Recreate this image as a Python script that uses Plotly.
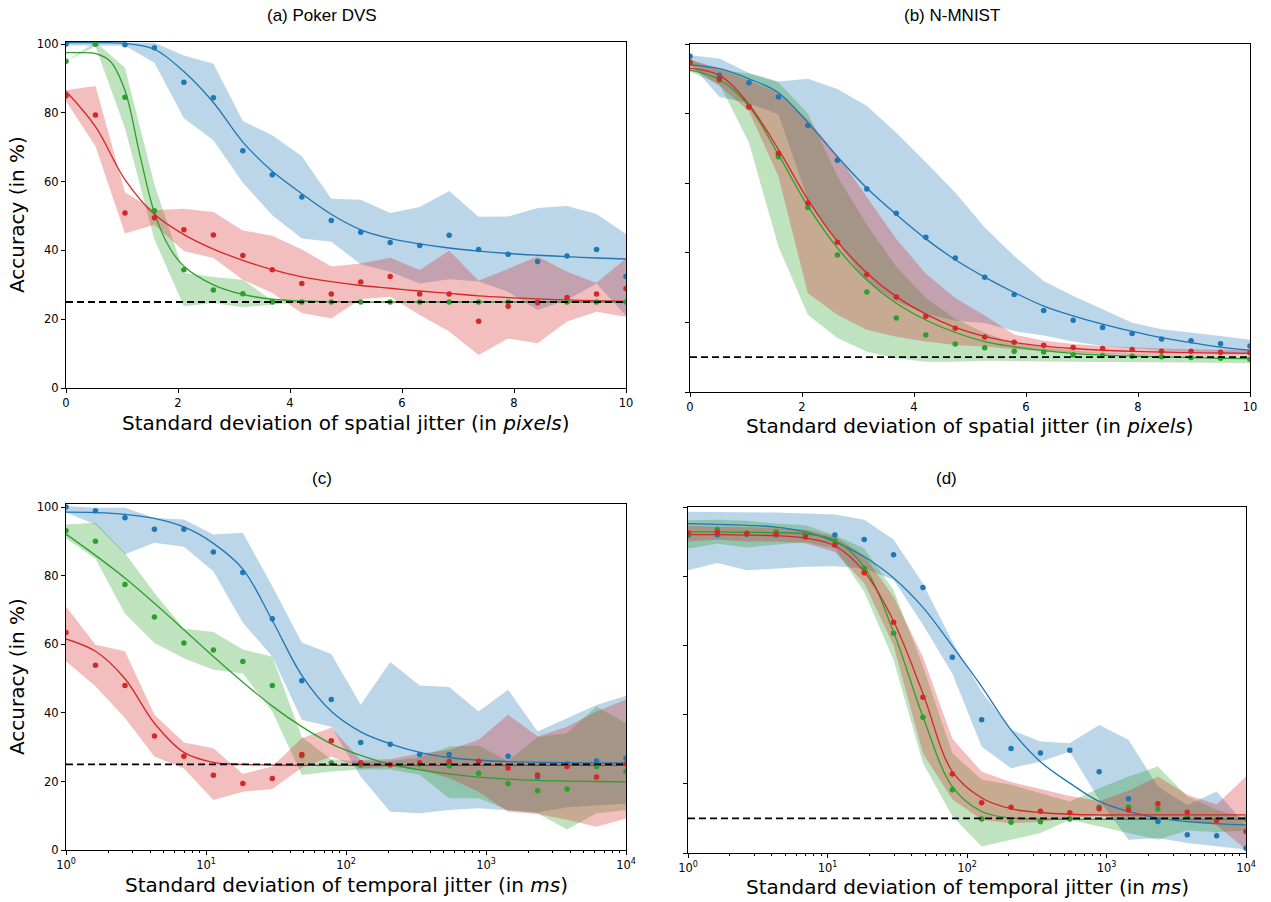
import plotly.graph_objects as go

W, H = 1271, 902

# ---------------- data ----------------
spatial_x = [0.0, 0.526, 1.053, 1.579, 2.105, 2.632, 3.158, 3.684, 4.211, 4.737,
             5.263, 5.789, 6.316, 6.842, 7.368, 7.895, 8.421, 8.947, 9.474, 10.0]
temporal_x = [1.0, 1.624, 2.637, 4.281, 6.952, 11.29, 18.33, 29.76, 48.33, 78.48,
              127.4, 206.9, 336.0, 545.6, 885.9, 1438.0, 2336.0, 3793.0, 6158.0, 10000.0]

poker_chance = 25
nmnist_chance = 10

# (a) Poker DVS - spatial
a_blue_pts = [100.0, 100.0, 99.8, 98.9, 88.9, 84.4, 69.0, 62.0, 55.5, 48.7, 45.3, 42.3, 41.4, 44.4, 40.3, 38.9, 36.8, 38.4, 40.3, 32.4]
a_blue_fit = [100.4, 100.4, 100.2, 98.5, 92.0, 83.0, 71.5, 63.0, 56.5, 50.5, 46.0, 43.5, 41.9, 40.7, 39.8, 39.1, 38.6, 38.2, 37.8, 37.5]
a_blue_hi = [100.6, 100.6, 100.6, 100.4, 96.7, 94.3, 77.6, 73.5, 67.4, 55.0, 54.7, 50.9, 52.6, 57.3, 49.8, 49.9, 52.3, 52.9, 50.6, 44.8]
a_blue_lo = [99.6, 99.6, 99.5, 94.6, 78.4, 72.0, 59.7, 50.2, 43.5, 42.5, 36.0, 33.8, 30.4, 31.6, 31.0, 28.0, 22.7, 25.6, 30.4, 21.0]
a_green_pts = [95.0, 100.0, 84.5, 51.5, 34.4, 28.5, 27.4, 25.0, 25.0, 25.0, 25.0, 25.0, 25.0, 25.0, 25.0, 25.0, 25.0, 25.0, 25.0, 25.0]
# the green fitted curve is read at extra points where it drops steeply
a_green_fit_x = [0.0, 0.263, 0.526, 0.79, 1.053, 1.316, 1.579, 1.842, 2.105, 2.632, 3.158, 3.684, 4.211, 4.737,
                 5.263, 5.789, 6.316, 6.842, 7.368, 7.895, 8.421, 8.947, 9.474, 10.0]
a_green_fit = [97.5, 97.5, 97.2, 95.0, 86.5, 68.0, 51.0, 41.0, 35.4, 30.0, 27.2, 25.8, 25.3, 25.1,
               25.0, 25.0, 25.0, 25.0, 25.0, 25.0, 25.0, 25.0, 25.0, 25.0]
a_green_hi = [95.0, 100.6, 93.1, 59.2, 33.5, 32.3, 31.5, 25.4, 25.1, 25.0, 25.0, 25.0, 25.0, 25.0, 25.0, 25.0, 25.0, 25.0, 25.0, 25.0]
a_green_lo = [95.0, 99.4, 75.5, 43.2, 23.8, 24.7, 23.5, 24.2, 24.9, 25.0, 25.0, 25.0, 25.0, 25.0, 25.0, 25.0, 25.0, 25.0, 25.0, 25.0]
a_red_pts = [85.0, 79.4, 50.9, 49.5, 46.0, 44.5, 38.5, 34.4, 30.4, 27.3, 30.8, 32.4, 27.3, 27.3, 19.4, 23.8, 24.8, 26.3, 27.3, 28.9]
a_red_fit = [86.3, 76.0, 60.6, 50.5, 44.6, 40.4, 37.1, 34.4, 32.3, 30.9, 29.8, 29.0, 28.2, 27.5, 26.8, 26.3, 25.9, 25.6, 25.4, 25.2]
a_red_hi = [86.6, 87.8, 56.9, 51.7, 52.1, 51.2, 45.8, 44.3, 40.3, 35.3, 36.2, 37.9, 34.3, 39.9, 31.2, 34.8, 38.2, 33.8, 30.5, 37.7]
a_red_lo = [83.4, 70.3, 44.9, 47.5, 39.8, 37.8, 31.5, 27.6, 21.8, 20.2, 25.8, 26.5, 21.2, 16.4, 9.6, 14.4, 13.0, 19.3, 22.2, 20.7]

# (b) N-MNIST - spatial
b_blue_pts = [96.5, 91.0, 88.9, 84.8, 76.6, 66.6, 58.3, 51.4, 44.5, 38.5, 33.0, 28.0, 23.4, 20.6, 18.5, 16.8, 15.2, 14.7, 13.9, 13.2]
b_blue_fit = [94.0, 92.9, 90.0, 86.0, 77.4, 67.6, 58.6, 51.0, 44.0, 38.0, 33.0, 28.6, 24.7, 21.9, 19.5, 17.4, 15.6, 14.2, 12.9, 12.0]
b_blue_hi = [96.8, 95.8, 91.7, 89.2, 90.0, 87.1, 82.2, 74.5, 66.0, 57.3, 47.3, 39.1, 31.9, 27.6, 23.8, 19.9, 18.0, 17.1, 16.1, 15.0]
b_blue_lo = [94.5, 84.8, 83.0, 79.8, 55.3, 42.8, 32.0, 26.0, 22.5, 20.5, 19.8, 17.5, 16.2, 14.5, 13.2, 12.5, 12.0, 11.6, 11.3, 11.0]
b_green_pts = [94.8, 89.6, 82.1, 67.6, 53.0, 39.4, 28.7, 21.3, 16.4, 13.8, 12.7, 11.7, 11.5, 10.7, 10.5, 10.3, 10.1, 9.9, 9.7, 9.4]
b_green_fit = [92.5, 89.8, 82.1, 68.2, 53.4, 41.4, 32.2, 25.5, 20.7, 17.1, 14.5, 13.0, 11.9, 11.1, 10.6, 10.3, 10.1, 9.9, 9.7, 9.6]
b_green_hi = [95.5, 92.5, 91.5, 89.0, 80.0, 62.0, 48.0, 36.0, 27.0, 21.0, 17.0, 14.0, 12.8, 11.9, 11.3, 10.9, 10.6, 10.4, 10.2, 10.0]
b_green_lo = [92.0, 88.5, 71.6, 41.8, 22.2, 15.5, 11.6, 9.7, 8.7, 8.7, 9.0, 9.0, 8.8, 8.7, 8.6, 8.5, 8.5, 8.4, 8.4, 8.3]
b_red_pts = [94.6, 90.0, 81.9, 68.5, 54.3, 43.0, 33.8, 27.3, 21.8, 18.3, 15.8, 14.3, 13.4, 12.8, 12.5, 12.2, 11.7, 11.7, 11.4, 11.3]
b_red_fit = [93.0, 91.0, 82.6, 69.7, 55.3, 43.3, 34.2, 27.4, 22.4, 18.6, 16.0, 14.3, 13.2, 12.5, 12.0, 11.7, 11.5, 11.3, 11.2, 11.1]
b_red_hi = [95.5, 93.0, 89.5, 86.0, 78.3, 68.0, 56.0, 44.0, 34.0, 27.0, 22.0, 16.5, 14.7, 13.8, 13.2, 12.8, 12.5, 12.3, 12.1, 12.0]
b_red_lo = [93.5, 87.9, 80.7, 62.0, 28.4, 22.2, 17.9, 15.9, 14.5, 13.5, 13.1, 12.3, 11.8, 11.3, 11.0, 10.7, 10.5, 10.3, 10.2, 10.1]

# (c) Poker DVS - temporal
c_blue_pts = [100.1, 99.0, 97.0, 93.6, 93.6, 87.0, 81.0, 67.5, 49.4, 43.9, 31.4, 30.9, 27.9, 27.9, 25.8, 27.4, 21.4, 25.1, 26.0, 26.8]
c_blue_fit = [98.6, 98.5, 98.0, 96.8, 94.3, 89.5, 82.0, 67.0, 51.0, 40.5, 34.5, 31.0, 28.5, 27.0, 26.2, 25.8, 25.6, 25.5, 25.4, 25.4]
c_blue_hi = [100.4, 99.9, 99.9, 96.9, 96.5, 92.1, 92.6, 77.0, 60.6, 57.2, 42.4, 54.9, 48.0, 47.6, 40.4, 46.8, 34.6, 38.5, 42.3, 45.0]
c_blue_lo = [98.5, 95.0, 86.3, 89.7, 88.5, 81.4, 66.3, 56.5, 38.0, 36.0, 21.4, 11.2, 10.7, 11.7, 12.2, 11.7, 11.0, 12.5, 13.0, 13.5]
c_green_pts = [93.2, 90.1, 77.5, 68.0, 60.4, 58.4, 55.0, 48.0, 27.5, 25.4, 24.8, 24.9, 25.0, 24.6, 22.4, 19.4, 17.3, 17.8, 24.4, 22.9]
c_green_fit = [92.2, 86.0, 79.4, 72.0, 64.3, 56.5, 49.0, 42.0, 36.0, 31.0, 27.6, 25.0, 23.4, 22.2, 21.3, 20.7, 20.3, 20.1, 20.0, 19.9]
c_green_hi = [95.0, 95.5, 86.7, 75.0, 64.6, 63.6, 58.5, 56.5, 33.0, 26.5, 25.8, 26.0, 27.0, 30.2, 30.5, 26.0, 33.0, 34.1, 41.9, 37.0]
c_green_lo = [91.0, 85.0, 69.0, 60.4, 56.0, 52.6, 51.5, 40.4, 21.9, 22.9, 23.5, 23.5, 22.0, 15.1, 15.1, 11.7, 10.7, 6.0, 10.7, 11.7]
c_red_pts = [63.5, 53.9, 48.0, 33.3, 27.4, 21.8, 19.4, 20.9, 27.9, 31.9, 25.5, 24.9, 25.5, 25.8, 25.9, 23.9, 21.9, 24.4, 21.3, 25.1]
c_red_fit = [61.6, 58.0, 50.0, 37.0, 28.5, 25.6, 25.0, 24.8, 24.7, 24.7, 24.7, 24.7, 24.7, 24.7, 24.7, 24.7, 24.7, 24.7, 24.7, 24.7]
c_red_hi = [71.1, 59.9, 58.0, 39.5, 31.4, 29.7, 22.2, 24.4, 32.6, 35.7, 26.3, 26.5, 28.2, 29.2, 32.2, 39.5, 33.1, 36.0, 40.4, 43.9]
c_red_lo = [55.1, 47.8, 38.5, 27.3, 23.8, 14.6, 17.0, 17.8, 24.0, 27.3, 23.8, 24.3, 23.5, 21.0, 17.0, 11.2, 10.5, 8.8, 6.8, 9.2]

# (d) N-MNIST - temporal
d_blue_pts = [91.8, 92.0, 92.1, 92.0, 92.0, 91.9, 90.6, 86.2, 76.7, 56.6, 38.5, 30.2, 28.9, 29.7, 23.5, 15.7, 9.1, 5.3, 5.0, 1.4]
d_blue_fit = [95.2, 95.0, 94.7, 94.2, 92.8, 90.0, 85.6, 79.5, 71.0, 59.8, 48.1, 35.6, 26.4, 20.2, 14.9, 12.0, 10.1, 9.1, 8.5, 8.1]
d_blue_hi = [98.6, 98.6, 98.6, 98.4, 98.1, 97.8, 96.3, 90.6, 77.9, 61.1, 46.6, 35.6, 32.2, 31.7, 37.0, 32.7, 19.2, 13.9, 17.8, 8.0]
d_blue_lo = [81.7, 83.8, 81.7, 82.2, 82.7, 82.9, 82.2, 79.0, 66.0, 51.9, 30.7, 24.5, 26.4, 29.3, 15.4, 3.8, 4.3, 2.9, 1.9, 1.0]
d_green_pts = [92.3, 93.5, 92.5, 92.8, 92.3, 90.2, 82.2, 63.5, 39.2, 18.3, 9.8, 8.9, 9.0, 9.8, 13.3, 13.3, 12.7, 10.3, 9.6, 9.8]
d_green_fit = [92.8, 92.8, 92.7, 92.6, 92.2, 90.4, 82.7, 63.9, 39.4, 19.2, 12.0, 10.1, 9.8, 9.7, 9.7, 9.7, 9.7, 9.7, 9.7, 9.7]
d_green_hi = [96.2, 96.3, 96.0, 95.2, 94.7, 91.8, 88.0, 76.0, 54.0, 28.8, 21.2, 19.7, 17.3, 14.9, 18.7, 22.1, 25.0, 16.3, 12.5, 10.0]
d_green_lo = [88.0, 89.4, 88.3, 89.0, 89.9, 88.0, 75.5, 55.8, 26.0, 10.6, 1.9, 3.8, 5.8, 9.6, 7.7, 5.8, 3.8, 6.5, 6.0, 6.5]
d_red_pts = [92.5, 92.6, 92.3, 92.1, 91.3, 89.0, 81.0, 66.7, 45.0, 22.8, 14.5, 13.2, 12.1, 11.6, 12.8, 12.4, 14.2, 11.8, 9.4, 6.2]
d_red_fit = [92.0, 92.0, 91.9, 91.7, 91.0, 88.8, 81.3, 67.0, 46.1, 23.5, 15.9, 12.8, 11.7, 11.2, 11.0, 11.0, 11.0, 11.0, 11.0, 11.0]
d_red_hi = [94.5, 94.3, 94.0, 94.0, 93.5, 91.5, 86.0, 74.0, 56.7, 33.0, 23.5, 20.5, 18.5, 16.5, 15.0, 18.0, 22.1, 16.8, 14.0, 22.1]
d_red_lo = [90.0, 90.5, 90.0, 90.0, 89.5, 87.0, 78.0, 60.0, 28.8, 15.5, 9.6, 8.6, 9.0, 10.1, 10.7, 9.6, 10.1, 9.6, 8.0, 1.0]

panel_titles = ["(a) Poker DVS", "(b) N-MNIST", "(c)", "(d)"]
y_label = "Accuracy (in %)"
x_label_spatial = "Standard deviation of spatial jitter (in <i>pixels</i>)"
x_label_temporal = "Standard deviation of temporal jitter (in <i>ms</i>)"
y_ticks = [0, 20, 40, 60, 80, 100]
x_ticks_spatial = [0, 2, 4, 6, 8, 10]
x_ticks_temporal = [1, 10, 100, 1000, 10000]
x_ticktext_temporal = ["10<sup>0</sup>", "10<sup>1</sup>", "10<sup>2</sup>", "10<sup>3</sup>", "10<sup>4</sup>"]
minor_temporal = [m * d for d in (1, 10, 100, 1000) for m in range(2, 10)]

# ---------------- styling ----------------
COL = {"blue": "#1f77b4", "green": "#2ca02c", "red": "#d62728"}
FILL = {"blue": "rgba(31,119,180,0.3)", "green": "rgba(44,160,44,0.3)", "red": "rgba(214,39,40,0.3)"}


def fx(p):
    return p / W


def fy(p):
    return 1 - p / H


panels = [
    dict(ax="", xs=spatial_x, chance=poker_chance, xdom=(66, 626), ydom=(42, 388), yr=[0, 100.6], log=False, labels=True,
         series={"blue": (a_blue_pts, a_blue_fit, a_blue_hi, a_blue_lo, spatial_x),
                 "green": (a_green_pts, a_green_fit, a_green_hi, a_green_lo, a_green_fit_x),
                 "red": (a_red_pts, a_red_fit, a_red_hi, a_red_lo, spatial_x)}),
    dict(ax="2", xs=spatial_x, chance=nmnist_chance, xdom=(690, 1250), ydom=(44, 392), yr=[0, 100], log=False, labels=False,
         series={"blue": (b_blue_pts, b_blue_fit, b_blue_hi, b_blue_lo, spatial_x),
                 "green": (b_green_pts, b_green_fit, b_green_hi, b_green_lo, spatial_x),
                 "red": (b_red_pts, b_red_fit, b_red_hi, b_red_lo, spatial_x)}),
    dict(ax="3", xs=temporal_x, chance=poker_chance, xdom=(66, 626), ydom=(504, 850), yr=[0, 101], log=True, labels=True,
         series={"blue": (c_blue_pts, c_blue_fit, c_blue_hi, c_blue_lo, temporal_x),
                 "green": (c_green_pts, c_green_fit, c_green_hi, c_green_lo, temporal_x),
                 "red": (c_red_pts, c_red_fit, c_red_hi, c_red_lo, temporal_x)}),
    dict(ax="4", xs=temporal_x, chance=nmnist_chance, xdom=(688, 1246), ydom=(507, 853), yr=[0, 100], log=True, labels=False,
         series={"blue": (d_blue_pts, d_blue_fit, d_blue_hi, d_blue_lo, temporal_x),
                 "green": (d_green_pts, d_green_fit, d_green_hi, d_green_lo, temporal_x),
                 "red": (d_red_pts, d_red_fit, d_red_hi, d_red_lo, temporal_x)}),
]

fig = go.Figure()
layout = dict(
    width=W, height=H,
    margin=dict(l=0, r=0, t=0, b=0),
    paper_bgcolor="white", plot_bgcolor="white",
    showlegend=False,
    font=dict(family="DejaVu Sans", color="black"),
    annotations=[],
)

tickfont = dict(family="DejaVu Sans", size=11.5, color="black")

for p in panels:
    xa, ya = "x" + p["ax"], "y" + p["ax"]
    xs = p["xs"]
    order = ["blue", "green", "red"]
    # bands
    for c in order:
        pts, fit, hi, lo, fx_ = p["series"][c]
        fig.add_trace(go.Scatter(x=xs, y=lo, xaxis=xa, yaxis=ya, mode="lines",
                                 line=dict(width=0, color=FILL[c]), hoverinfo="skip"))
        fig.add_trace(go.Scatter(x=xs, y=hi, xaxis=xa, yaxis=ya, mode="lines", fill="tonexty",
                                 fillcolor=FILL[c], line=dict(width=0, color=FILL[c]), hoverinfo="skip"))
    # fitted curves
    for c in order:
        pts, fit, hi, lo, fx_ = p["series"][c]
        fig.add_trace(go.Scatter(x=fx_, y=fit, xaxis=xa, yaxis=ya, mode="lines",
                                 line=dict(width=1.3, color=COL[c], shape="spline", smoothing=1.0)))
    # points
    for c in order:
        pts, fit, hi, lo, fx_ = p["series"][c]
        fig.add_trace(go.Scatter(x=xs, y=pts, xaxis=xa, yaxis=ya, mode="markers",
                                 marker=dict(size=5.5, color=COL[c], line=dict(width=0))))
    # chance level
    fig.add_trace(go.Scatter(x=[xs[0], xs[-1]], y=[p["chance"], p["chance"]], xaxis=xa, yaxis=ya, mode="lines",
                             line=dict(width=1.8, color="black", dash="7px,4px")))

    xkey = "xaxis" + p["ax"]
    ykey = "yaxis" + p["ax"]
    xaxis = dict(domain=[fx(p["xdom"][0]), fx(p["xdom"][1])], anchor=ya,
                 showline=True, mirror=True, linecolor="black", linewidth=1,
                 showgrid=False, zeroline=False, ticks="outside", ticklen=4, tickwidth=1, tickcolor="black",
                 tickfont=tickfont, automargin=False)
    if p["log"]:
        xaxis.update(type="log", range=[0, 4], tickmode="array", tickvals=x_ticks_temporal,
                     ticktext=x_ticktext_temporal,
                     minor=dict(tickmode="array", tickvals=minor_temporal, ticks="outside", ticklen=2,
                                tickwidth=0.8, tickcolor="black", showgrid=False))
    else:
        xaxis.update(range=[0, 10], tickmode="array", tickvals=x_ticks_spatial)
    yaxis = dict(domain=[fy(p["ydom"][1]), fy(p["ydom"][0])], anchor=xa, range=p["yr"],
                 showline=True, mirror=True, linecolor="black", linewidth=1,
                 showgrid=False, zeroline=False, ticks="outside", ticklen=4, tickwidth=1, tickcolor="black",
                 tickmode="array", tickvals=y_ticks, showticklabels=p["labels"], tickfont=tickfont,
                 automargin=False)
    layout[xkey] = xaxis
    layout[ykey] = yaxis

ann = layout["annotations"]
title_font = dict(family="Liberation Sans", size=17, color="black")
label_font = dict(family="DejaVu Sans", size=20, color="black")
# panel titles
for text, cx, cy in [(panel_titles[0], 322, 16), (panel_titles[1], 952, 16),
                     (panel_titles[2], 322, 479), (panel_titles[3], 946, 479)]:
    ann.append(dict(text=text, x=fx(cx), y=fy(cy), xref="paper", yref="paper", showarrow=False,
                    xanchor="center", yanchor="middle", font=title_font))
# x labels
for text, cx, cy in [(x_label_spatial, 346, 423), (x_label_spatial, 970, 426),
                     (x_label_temporal, 346, 885), (x_label_temporal, 967, 887)]:
    ann.append(dict(text=text, x=fx(cx), y=fy(cy), xref="paper", yref="paper", showarrow=False,
                    xanchor="center", yanchor="middle", font=label_font))
# y labels
for cy in (215, 677):
    ann.append(dict(text=y_label, x=fx(17), y=fy(cy), xref="paper", yref="paper", showarrow=False,
                    xanchor="center", yanchor="middle", textangle=-90, font=label_font))

fig.update_layout(**layout)
fig.write_html("out.html", config={"displayModeBar": False},
               post_script="document.body.style.margin='0px';")
